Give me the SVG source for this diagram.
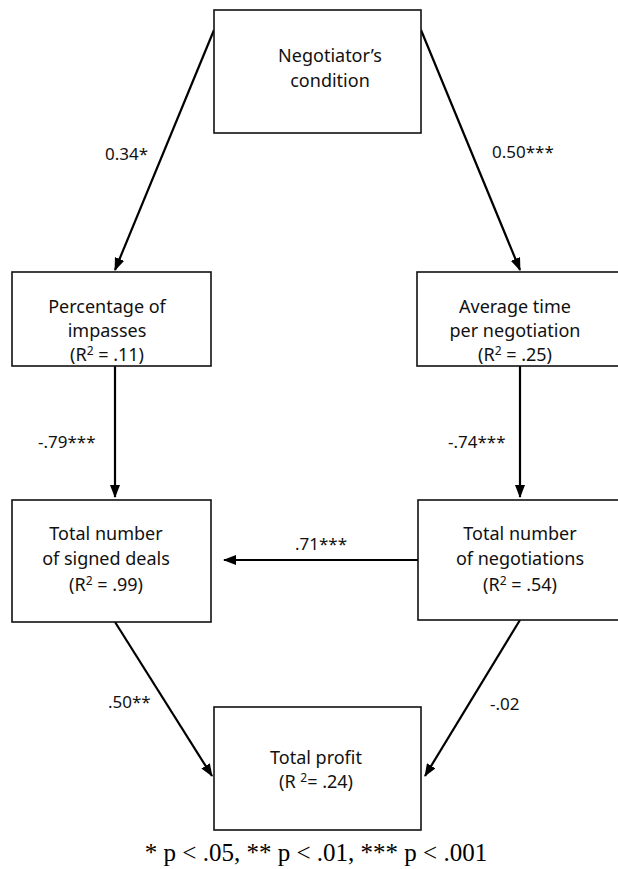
<svg xmlns="http://www.w3.org/2000/svg" width="618" height="869" viewBox="0 0 618 869">
<style>
.box{fill:#fff;stroke:#111;stroke-width:1.6}
.t{font-family:"Noto Sans","Open Sans",sans-serif;font-size:18px;fill:#111;text-anchor:middle}
.l{font-family:"Noto Sans","Open Sans",sans-serif;font-size:17px;fill:#111}
.c{stroke:#000;stroke-width:2.2;fill:none;marker-end:url(#ah)}
.cap{font-family:"Liberation Serif",serif;font-size:25px;fill:#000;text-anchor:middle}
</style>
<defs>
<marker id="ah" markerWidth="13" markerHeight="10" refX="12" refY="5" orient="auto" markerUnits="userSpaceOnUse">
<path d="M0,0 L13,5 L0,10 Z" fill="#000"/>
</marker>
</defs>
<rect width="618" height="869" fill="#fff"/>
<g id="connectors">
<line class="c" x1="214" y1="30" x2="115" y2="270"/>
<line class="c" x1="421" y1="30" x2="520" y2="270"/>
<line class="c" x1="115" y1="366" x2="115" y2="497"/>
<line class="c" x1="520" y1="366" x2="520" y2="497"/>
<line class="c" x1="418" y1="560" x2="224" y2="560"/>
<line class="c" x1="115" y1="622" x2="212" y2="776"/>
<line class="c" x1="520" y1="620" x2="425" y2="776"/>
<text class="l" x="105" y="160">0.34*</text>
<text class="l" x="492" y="158">0.50***</text>
<text class="l" x="38" y="448">-.79***</text>
<text class="l" x="448" y="448">-.74***</text>
<text class="l" x="295" y="550">.71***</text>
<text class="l" x="108" y="708">.50**</text>
<text class="l" x="490" y="710">-.02</text>
</g>
<g id="n1">
<rect class="box" x="214" y="10" width="207" height="123"/>
<text class="t" x="330" y="62">Negotiator’s</text>
<text class="t" x="330" y="87">condition</text>
</g>
<g id="n2">
<rect class="box" x="12" y="272" width="199" height="94"/>
<text class="t" x="107" y="313">Percentage of</text>
<text class="t" x="107" y="337">impasses</text>
<text class="t" x="107" y="361">(R<tspan dy="-6" font-size="12">2</tspan><tspan dy="6"> = .11)</tspan></text>
</g>
<g id="n3">
<rect class="box" x="417" y="272" width="205" height="94"/>
<text class="t" x="515" y="313">Average time</text>
<text class="t" x="515" y="337">per negotiation</text>
<text class="t" x="515" y="361">(R<tspan dy="-6" font-size="12">2</tspan><tspan dy="6"> = .25)</tspan></text>
</g>
<g id="n4">
<rect class="box" x="12" y="500" width="199" height="122"/>
<text class="t" x="106" y="540">Total number</text>
<text class="t" x="106" y="565">of signed deals</text>
<text class="t" x="106" y="591">(R<tspan dy="-6" font-size="12">2</tspan><tspan dy="6"> = .99)</tspan></text>
</g>
<g id="n5">
<rect class="box" x="418" y="500" width="204" height="120"/>
<text class="t" x="520" y="540">Total number</text>
<text class="t" x="520" y="565">of negotiations</text>
<text class="t" x="520" y="591">(R<tspan dy="-6" font-size="12">2</tspan><tspan dy="6"> = .54)</tspan></text>
</g>
<g id="n6">
<rect class="box" x="214" y="707" width="207" height="123"/>
<text class="t" x="316" y="764">Total profit</text>
<text class="t" x="316" y="788">(R <tspan dy="-6" font-size="12">2</tspan><tspan dy="6">= .24)</tspan></text>
</g>
<text class="cap" x="316" y="861">* p &lt; .05, ** p &lt; .01, *** p &lt; .001</text>
</svg>
